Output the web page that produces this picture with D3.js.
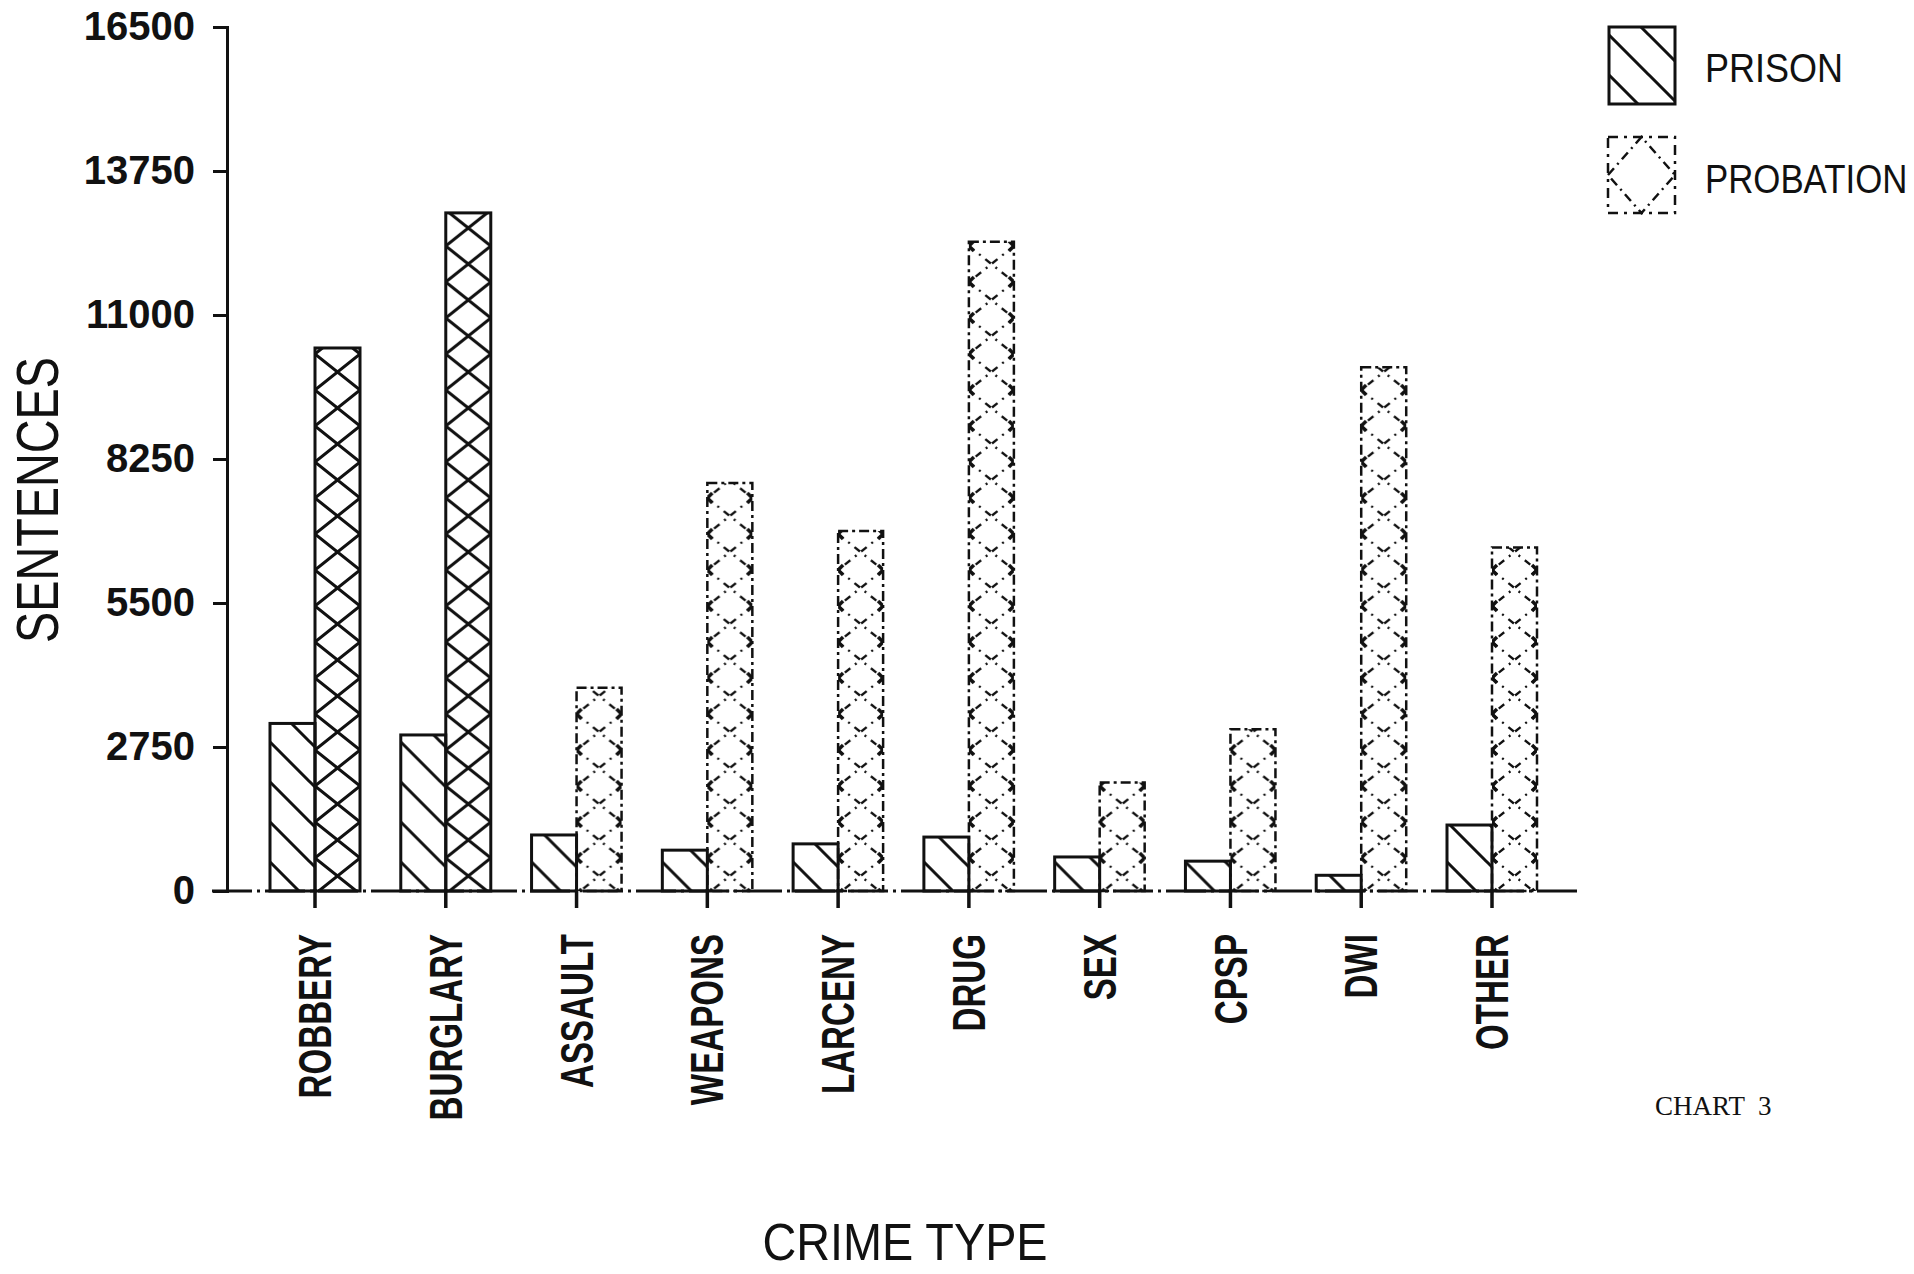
<!DOCTYPE html>
<html>
<head>
<meta charset="utf-8">
<script src="https://cdn.jsdelivr.net/npm/d3@7"></script>
<style>
body { margin: 0; background: #fff; }
text { font-family: "Liberation Sans", Arial, sans-serif; fill: #111; }
</style>
</head>
<body>
<script>

// data
var categories = ["ROBBERY", "BURGLARY", "ASSAULT", "WEAPONS", "LARCENY",
                  "DRUG", "SEX", "CPSP", "DWI", "OTHER"];
var prison = [3200, 2980, 1070, 780, 900, 1030, 650, 570, 300, 1260];
var probation = [10370, 12950, 3880, 7790, 6875, 12400, 2070, 3090, 10000, 6560];
var yTicks = [0, 2750, 5500, 8250, 11000, 13750, 16500];
var seriesNames = ["PRISON", "PROBATION"];

var width = 1914, height = 1274;
var ink = "#111";
var barW = 45;

var svg = d3.select("body")
            .append("svg")
            .attr("width", width)
            .attr("height", height);

var y = d3.scaleLinear().domain([0, 16500]).range([891, 27]);
var x = d3.scalePoint().domain(categories).range([315, 1492]);

// hatch patterns
var defs = svg.append("defs");

var pPat = defs.append("pattern")
               .attr("id", "prisonHatch")
               .attr("patternUnits", "userSpaceOnUse")
               .attr("width", 40).attr("height", 40)
               .attr("y", -29);
pPat.append("path")
    .attr("d", "M-2,-2L42,42M-3,37L3,43M37,-3L43,3")
    .attr("stroke", ink).attr("stroke-width", 3).attr("fill", "none");

var crossPattern = function(id, dashed) {
  var p = defs.append("pattern")
              .attr("id", id)
              .attr("patternUnits", "userSpaceOnUse")
              .attr("width", barW).attr("height", 36)
              .attr("y", -33);
  p.append("path")
   .attr("d", "M0,0L45,36M45,0L0,36")
   .attr("stroke", ink)
   .attr("stroke-width", dashed ? 2.3 : 3)
   .attr("stroke-dasharray", dashed ? "7,6,2,6" : null)
   .attr("fill", "none");
  if (dashed) {
    // little x marks where the hatch meets the bar edges
    [[0, 0], [45, 0], [0, 36], [45, 36]].forEach(function(c) {
      p.append("path")
       .attr("d", "M" + (c[0]-5) + "," + (c[1]-5) + "l10,10m0,-10l-10,10")
       .attr("stroke", ink).attr("stroke-width", 3.5);
    });
  }
};
crossPattern("probSolid", false);
crossPattern("probDashed", true);

// bars
var cats = svg.selectAll("g.cat")
              .data(categories)
              .enter()
              .append("g")
              .attr("class", "cat");

cats.append("g")
    .attr("transform", function(d) { return "translate(" + (x(d) - barW) + "," + y(0) + ")"; })
    .append("rect")
    .attr("x", 0)
    .attr("width", barW)
    .attr("y", function(d, i) { return y(prison[i]) - y(0); })
    .attr("height", function(d, i) { return y(0) - y(prison[i]); })
    .attr("fill", "url(#prisonHatch)")
    .attr("stroke", ink)
    .attr("stroke-width", 3);

cats.append("g")
    .attr("transform", function(d) { return "translate(" + x(d) + "," + y(0) + ")"; })
    .append("rect")
    .attr("x", 0)
    .attr("width", barW)
    .attr("y", function(d, i) { return y(probation[i]) - y(0); })
    .attr("height", function(d, i) { return y(0) - y(probation[i]); })
    .attr("fill", function(d, i) { return i < 2 ? "url(#probSolid)" : "url(#probDashed)"; })
    .attr("stroke", ink)
    .attr("stroke-width", function(d, i) { return i < 2 ? 3 : 2.5; })
    .attr("stroke-dasharray", function(d, i) { return i < 2 ? null : "10,4,3,4"; });

// x baseline + category ticks
svg.append("line")
   .attr("x1", 212).attr("x2", 1580)
   .attr("y1", y(0)).attr("y2", y(0))
   .attr("stroke", ink).attr("stroke-width", 3)
   .attr("stroke-dasharray", "40,5,3,5");

cats.append("line")
    .attr("x1", function(d) { return x(d); })
    .attr("x2", function(d) { return x(d); })
    .attr("y1", y(0) - 2)
    .attr("y2", y(0) + 17)
    .attr("stroke", ink).attr("stroke-width", 3.5);

cats.append("text")
    .attr("transform", function(d) { return "translate(" + x(d) + ",934) rotate(-90) scale(0.72,1)"; })
    .attr("text-anchor", "end")
    .attr("dy", "0.35em")
    .style("font-size", "46px")
    .style("font-weight", "bold")
    .text(function(d) { return d; });

// y axis
var yAxis = svg.append("g")
               .attr("transform", "translate(227,0)")
               .call(d3.axisLeft(y).tickValues(yTicks).tickSize(14).tickPadding(18).tickFormat(d3.format("d")));
yAxis.select(".domain").attr("stroke", ink).attr("stroke-width", 3);
yAxis.selectAll(".tick line").attr("stroke", ink).attr("stroke-width", 3);
yAxis.selectAll(".tick text")
     .attr("fill", ink)
     .style("font-family", "'Liberation Sans', Arial, sans-serif")
     .style("font-size", "40px")
     .style("font-weight", "bold");

// axis titles
svg.append("text")
   .attr("transform", "translate(37,500) rotate(-90) scale(0.78,1)")
   .attr("text-anchor", "middle")
   .attr("dy", "0.35em")
   .style("font-size", "60px")
   .text("SENTENCES");

svg.append("text")
   .attr("transform", "translate(905,1260) scale(0.9,1)")
   .attr("text-anchor", "middle")
   .style("font-size", "52px")
   .text("CRIME TYPE");

// legend
var lg1 = svg.append("g").attr("transform", "translate(1609,104)");
lg1.append("rect")
   .attr("x", 0).attr("y", -77).attr("width", 66).attr("height", 77)
   .attr("fill", "url(#prisonHatch)")
   .attr("stroke", ink).attr("stroke-width", 3);

var lg2 = svg.append("g").attr("transform", "translate(1608,137)");
lg2.append("rect")
   .attr("width", 67).attr("height", 76)
   .attr("fill", "none")
   .attr("stroke", ink).attr("stroke-width", 2.5)
   .attr("stroke-dasharray", "10,6,3,6");
lg2.append("path")
   .attr("d", "M0,38L33.5,0L67,38L33.5,76Z")
   .attr("fill", "none")
   .attr("stroke", ink).attr("stroke-width", 2.5)
   .attr("stroke-dasharray", "9,5,2,5");

svg.selectAll("text.leg")
   .data(seriesNames)
   .enter()
   .append("text")
   .attr("class", "leg")
   .attr("transform", function(d, i) { return "translate(1705," + (i ? 193 : 82) + ") scale(" + (i ? 0.87 : 0.9) + ",1)"; })
   .style("font-size", "40px")
   .text(function(d) { return d; });

svg.append("text")
   .attr("x", 1655).attr("y", 1115)
   .style("font-family", "'Liberation Serif', 'Times New Roman', serif")
   .style("font-size", "27px")
   .style("white-space", "pre")
   .text("CHART  3");

</script>
</body>
</html>
